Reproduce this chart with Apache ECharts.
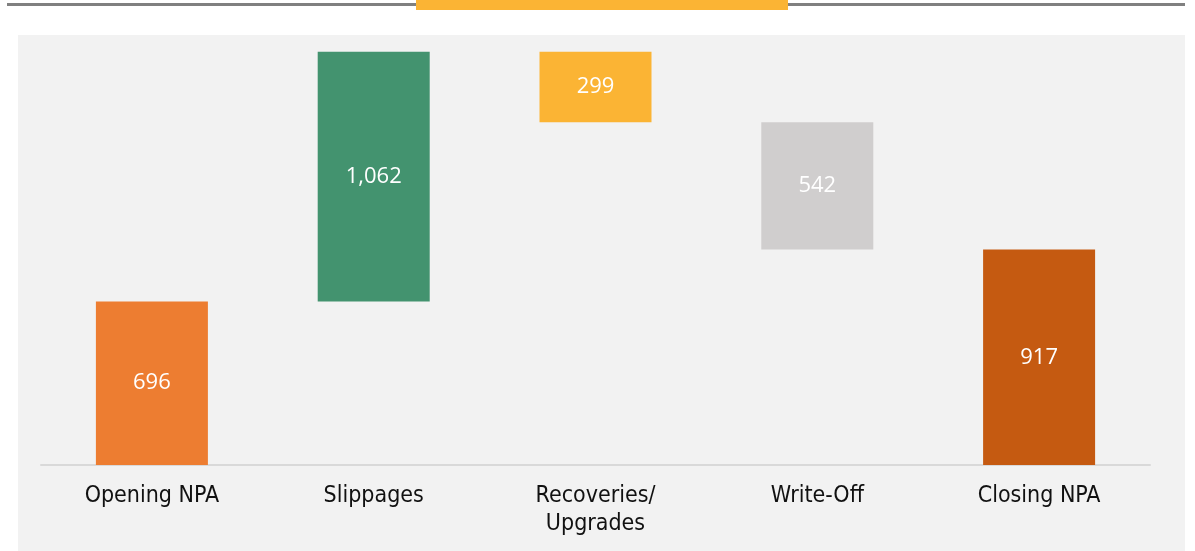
<!DOCTYPE html>
<html>
<head>
<meta charset="utf-8">
<script src="https://cdn.jsdelivr.net/npm/echarts@6/dist/echarts.min.js"></script>
<style>
  html, body { margin: 0; padding: 0; background: #ffffff; }
  #chart { width: 1195px; height: 551px; }
</style>
</head>
<body>
<div id="chart"></div>
<script>
// NPA movement (waterfall)
const categories = ['Opening NPA', 'Slippages', 'Recoveries/\nUpgrades', 'Write-Off', 'Closing NPA'];
const values = [696, 1062, 299, 542, 917];
// +1 adds to the running balance, -1 subtracts from it, 0 is a total bar from zero
const steps = [0, 1, -1, -1, 0];
const colors = ['#ED7D31', '#43936F', '#FBB434', '#D0CECE', '#C55A11'];

// invisible base under each floating bar
const bases = [];
let running = 0;
values.forEach((v, i) => {
  if (steps[i] === 0) { bases.push(0); running = v; }
  else if (steps[i] > 0) { bases.push(running); running += v; }
  else { running -= v; bases.push(running); }
});

const chart = echarts.init(document.getElementById('chart'), null, { renderer: 'canvas' });
chart.setOption({
  animation: false,
  backgroundColor: '#ffffff',
  graphic: [
    { type: 'rect', z: -10, shape: { x: 18, y: 35, width: 1167, height: 516 }, style: { fill: '#F2F2F2' } },
    { type: 'rect', shape: { x: 7, y: 3, width: 1178, height: 3 }, style: { fill: '#808080' } },
    { type: 'rect', shape: { x: 416, y: 0, width: 372, height: 10 }, style: { fill: '#FBB434' } }
  ],
  grid: { left: 41, right: 45, top: 42, bottom: 86, containLabel: false },
  xAxis: {
    type: 'category',
    data: categories,
    axisLine: { lineStyle: { color: '#D9D9D9', width: 2 } },
    axisTick: { show: false },
    axisLabel: {
      color: '#111111',
      fontFamily: 'DejaVu Sans Condensed, DejaVu Sans',
      fontSize: 23,
      lineHeight: 28,
      margin: 17,
      interval: 0
    }
  },
  yAxis: {
    type: 'value',
    min: 0,
    max: 1800,
    show: false,
    splitLine: { show: false }
  },
  series: [
    {
      type: 'bar',
      stack: 'wf',
      data: bases,
      itemStyle: { color: 'transparent' },
      barWidth: 112,
      silent: true
    },
    {
      type: 'bar',
      stack: 'wf',
      barWidth: 112,
      data: values.map((v, i) => ({ value: v, itemStyle: { color: colors[i] } })),
      label: {
        show: true,
        position: 'inside',
        color: '#ffffff',
        fontFamily: 'Open Sans, Noto Sans, sans-serif',
        fontSize: 22,
        formatter: p => p.value.toLocaleString('en-US')
      }
    }
  ]
});
</script>
</body>
</html>
